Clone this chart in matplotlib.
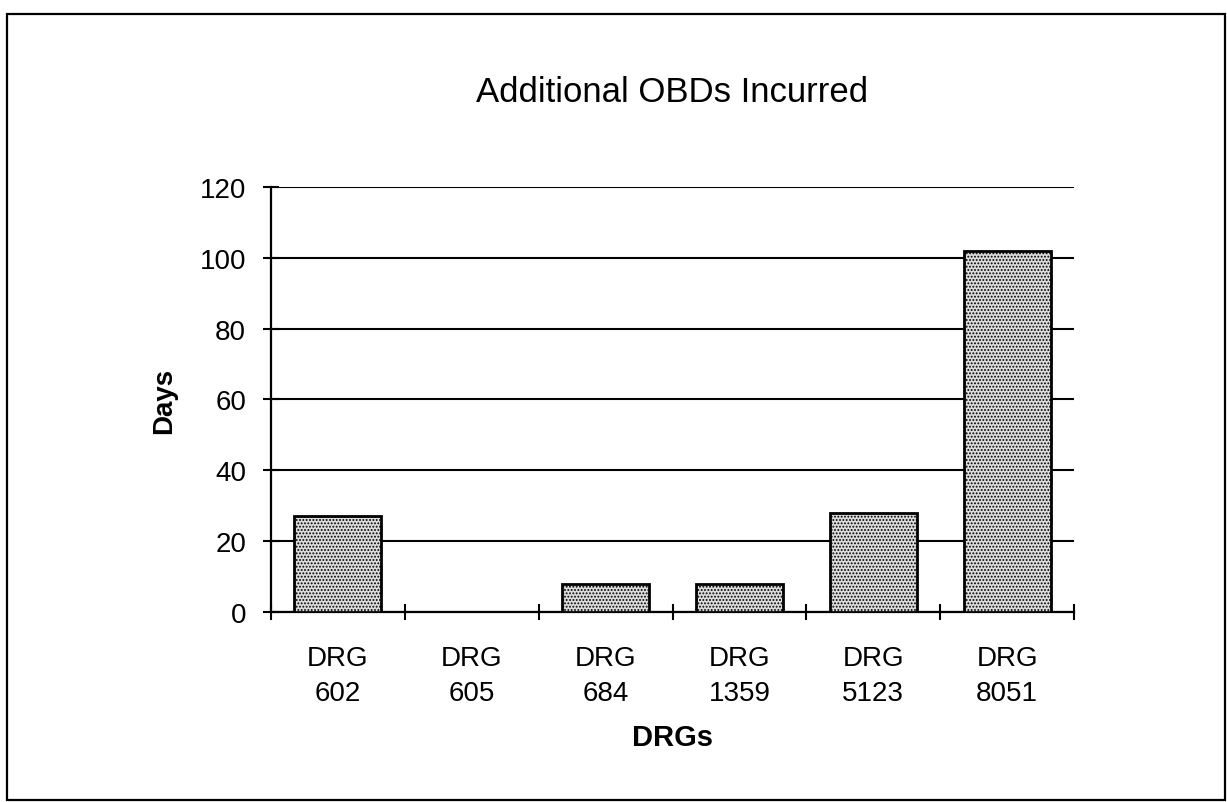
import matplotlib.pyplot as plt
from matplotlib.patches import Rectangle

# Data
categories = ['DRG\n602', 'DRG\n605', 'DRG\n684', 'DRG\n1359', 'DRG\n5123', 'DRG\n8051']
days = [27, 0, 8, 8, 28, 102]
y_ticks = [0, 20, 40, 60, 80, 100, 120]

plt.rcParams['font.family'] = ['Liberation Sans', 'DejaVu Sans']
plt.rcParams['hatch.color'] = '#3a3a3a'
plt.rcParams['hatch.linewidth'] = 0.9

fig = plt.figure(figsize=(12.27, 8.03), dpi=100)
ax = fig.add_axes([0.2209, 0.2366, 0.6544, 0.5293])

# outer frame
fig.patches.append(Rectangle((0.0053, 0.0025), 0.9927, 0.979, transform=fig.transFigure,
                             fill=False, edgecolor='black', linewidth=1.6))

x = list(range(len(categories)))
ax.bar(x, days, width=0.65, color='#dcdcdc', edgecolor='black', linewidth=2.0,
       hatch='.....', zorder=3)

ax.set_xlim(-0.5, len(categories) - 0.5)
ax.set_ylim(0, 120)
ax.set_yticks(y_ticks)
ax.set_yticklabels([str(v) for v in y_ticks], fontsize=20)
ax.yaxis.grid(True, color='black', linewidth=1.5, zorder=0)
ax.set_axisbelow(True)

ax.set_xticks(x)
ax.set_xticklabels(categories, fontsize=20, linespacing=1.45)
ax.set_xticks([i - 0.5 for i in range(len(categories) + 1)], minor=True)
ax.tick_params(axis='x', which='major', length=0, pad=24)
ax.tick_params(axis='x', which='minor', direction='inout', length=12, width=1.5)
ax.tick_params(axis='y', direction='inout', length=12, width=1.5, pad=12)

for side in ['top', 'right']:
    ax.spines[side].set_visible(False)
for side in ['left', 'bottom']:
    ax.spines[side].set_linewidth(1.6)

ax.set_title('Additional OBDs Incurred', fontsize=25, pad=62)
ax.set_ylabel('Days', fontsize=20, fontweight='bold', labelpad=16)
ax.set_xlabel('DRGs', fontsize=21, fontweight='bold', labelpad=12)

fig.savefig('out.png', dpi=100)
